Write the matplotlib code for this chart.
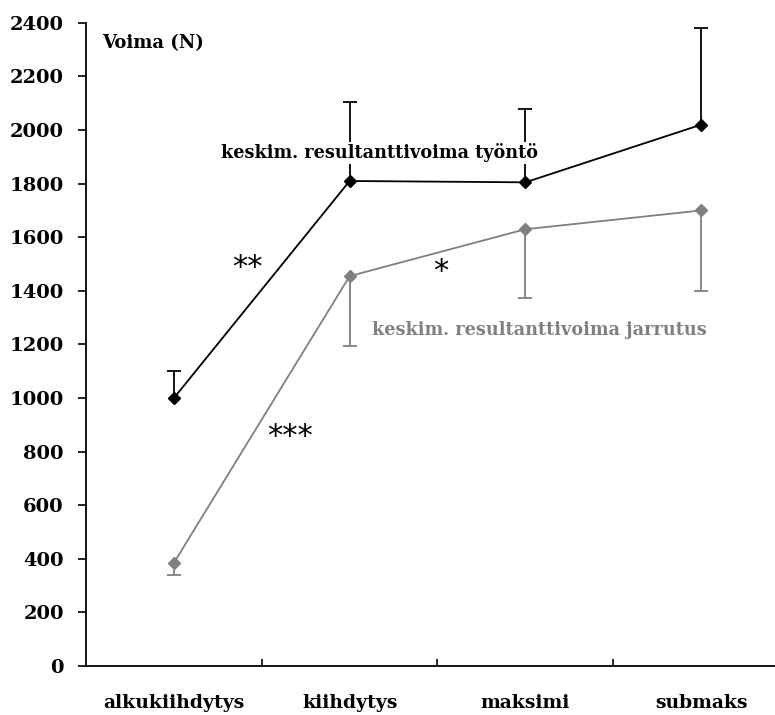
import matplotlib.pyplot as plt
import numpy as np

vaiheet = ['alkukiihdytys', 'kiihdytys', 'maksimi', 'submaks']

tyonto = [1000, 1810, 1805, 2020]
tyonto_err = [100, 295, 275, 360]

jarrutus = [385, 1455, 1630, 1700]
jarrutus_err = [45, 260, 255, 300]

plt.rcParams['font.family'] = ['DejaVu Serif']

fig = plt.figure(figsize=(7.75, 7.15), dpi=100)
ax = fig.add_axes([0.111, 0.0685, 0.907, 0.8995])

x = np.arange(len(vaiheet))
grey = '#808080'


def one_sided(vals, errs, sign, color, z):
    vals = np.asarray(vals)
    ends = vals + sign * np.asarray(errs)
    ax.vlines(x, vals, ends, color=color, lw=1.3, zorder=z)
    ax.plot(x, ends, ls='none', marker='_', ms=10, mew=1.3, color=color,
            zorder=z)
    ax.plot(x, vals, color=color, lw=1.3, marker='D', ms=6, zorder=z + 1)


one_sided(tyonto, tyonto_err, 1, 'black', 3)
one_sided(jarrutus, jarrutus_err, -1, grey, 1)

ax.set_xlim(-0.5, 3.5)
ax.set_ylim(0, 2400)
ax.set_yticks(range(0, 2401, 200))
ax.spines['top'].set_visible(False)
ax.spines['right'].set_visible(False)
ax.spines['left'].set_linewidth(1.3)
ax.spines['bottom'].set_linewidth(1.3)

ax.tick_params(axis='y', direction='out', length=6, width=1.2, pad=10,
               labelsize=14)
for t in ax.get_yticklabels():
    t.set_fontweight('bold')

# category boundaries as ticks, names centred between them
ax.set_xticks([0.5, 1.5, 2.5])
ax.set_xticklabels([])
ax.tick_params(axis='x', which='major', direction='in', length=5, width=1.2)
ax.set_xticks(x, minor=True)
ax.set_xticklabels(vaiheet, minor=True, fontweight='bold', fontsize=13.5)
ax.tick_params(axis='x', which='minor', length=0, pad=20)

ax.text(-0.41, 2325, 'Voima (N)', fontsize=13, fontweight='bold',
        va='center', ha='left')
ax.text(1.17, 1915, 'keskim. resultanttivoima työntö', fontsize=12.7,
        fontweight='bold', ha='center', va='center', zorder=6,
        bbox=dict(facecolor='white', edgecolor='none', pad=1))
ax.text(1.13, 1254, 'keskim. resultanttivoima jarrutus', fontsize=12.7,
        fontweight='bold', ha='left', va='center', color=grey)

ax.text(0.42, 1486, '**', fontsize=22, ha='center', va='center',
        family='DejaVu Sans')
ax.text(1.52, 1471, '*', fontsize=22, ha='center', va='center',
        family='DejaVu Sans')
ax.text(0.66, 858, '***', fontsize=22, ha='center', va='center',
        family='DejaVu Sans')

fig.savefig('out.png', dpi=100)
